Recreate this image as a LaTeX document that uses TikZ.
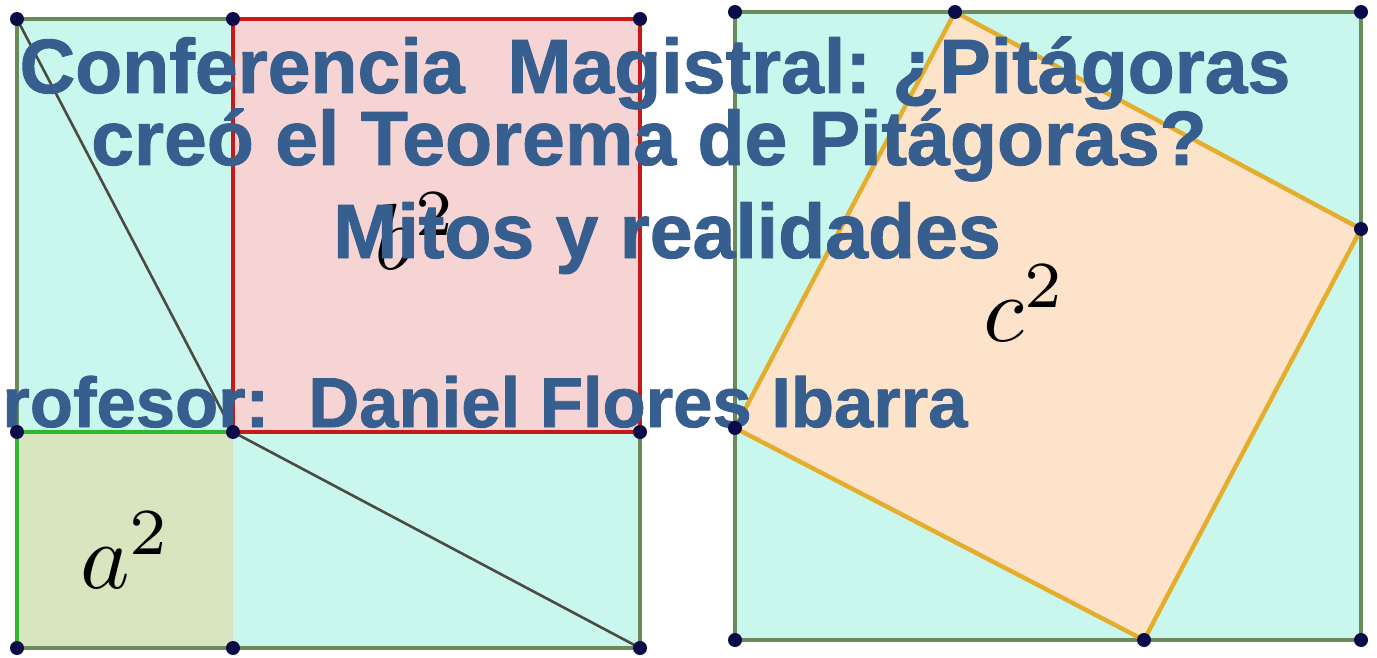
\documentclass[tikz,border=0pt]{standalone}
\usepackage{graphicx}
\usepackage{fontspec}
\setmainfont{Liberation Sans}[BoldFeatures={FakeBold=1.2}]
\usetikzlibrary{positioning}
\frenchspacing

\definecolor{cyanbg}{HTML}{C9F7EE}
\definecolor{pinkfill}{HTML}{F6D4D4}
\definecolor{olivefill}{HTML}{D9E5BE}
\definecolor{peachfill}{HTML}{FCE3CA}
\definecolor{redline}{HTML}{C81818}
\definecolor{greenline}{HTML}{2EB82E}
\definecolor{goldline}{HTML}{E4AE2C}
\definecolor{framecol}{HTML}{6A8A5A}
\definecolor{diagcol}{HTML}{4B4B42}
\definecolor{dotcol}{HTML}{0B0B4A}
\definecolor{titleblue}{HTML}{365E8F}

\newcommand{\sqtext}[1]{\scalebox{4.7}{$#1$}}

\tikzset{
  dot/.style={circle, fill=dotcol, inner sep=0pt, minimum size=7pt},
  frame/.style={draw=framecol, line width=1.7pt},
  title/.style={text=titleblue, inner sep=0pt, anchor=base,
    font=\bfseries\fontsize{38.5}{46}\selectfont},
  sqlabel/.style={inner sep=0pt}
}

\begin{document}
\begin{tikzpicture}[x=0.5pt, y=-0.5pt, line join=round]
\useasboundingbox (0,0) rectangle (1377,658);

% left square
\coordinate (L1) at (17,19);
\coordinate (L2) at (233,19);
\coordinate (L3) at (640,19);
\coordinate (L4) at (17,432);
\coordinate (L5) at (233,432);
\coordinate (L6) at (640,432);
\coordinate (L7) at (17,648);
\coordinate (L8) at (233,648);
\coordinate (L9) at (640,648);

% right square
\coordinate (R1) at (735,12);
\coordinate (R2) at (955,12);
\coordinate (R3) at (1361,12);
\coordinate (R4) at (1361,229);
\coordinate (R5) at (1361,640);
\coordinate (R6) at (1144,640);
\coordinate (R7) at (735,640);
\coordinate (R8) at (735,428);

\fill[cyanbg] (L1) rectangle (L9);
\fill[pinkfill] (L2) rectangle (L6);
\fill[olivefill] (L4) rectangle (L8);
\fill[cyanbg] (R1) rectangle (R5);
\fill[peachfill] (R2) -- (R4) -- (R6) -- (R8) -- cycle;

\draw[frame] (L1) -- (L3) -- (L9) -- (L7) -- cycle;
\draw[diagcol, line width=1.3pt] (L1) -- (L5) -- (L9);
\draw[greenline, line width=2pt] (L7) -- (L4) -- (L5);
\draw[redline, line width=2.2pt] (L2) -- (L3) -- (L6) -- (L5) -- cycle;
\draw[frame] (R1) -- (R3) -- (R5) -- (R7) -- cycle;
\draw[goldline, line width=2.2pt] (R2) -- (R4) -- (R6) -- (R8) -- cycle;

\node[sqlabel] (a2) at (126,550) {\sqtext{a^2}};
\node[sqlabel] (b2) at (416,231) {\sqtext{b^2}};
\node[sqlabel] (c2) at (1025,303) {\sqtext{c^2}};

\node[title] (t1) at (655,93) {Conferencia\ \ Magistral: ¿Pitágoras};
\node[title] (t2) at (649,165) {creó el Teorema de Pitágoras?};
\node[title] (t3) at (667,258) {Mitos y realidades};
\node[title, anchor=base west, font=\bfseries\fontsize{35.3}{42}\selectfont]
  (t4) at (2,427) {rofesor:\ \ Daniel Flores Ibarra};

\foreach \p in {L1,L2,L3,L4,L5,L6,L7,L8,L9,R1,R2,R3,R4,R5,R6,R7,R8}
  \node[dot] (d\p) at (\p) {};

\end{tikzpicture}
\end{document}
